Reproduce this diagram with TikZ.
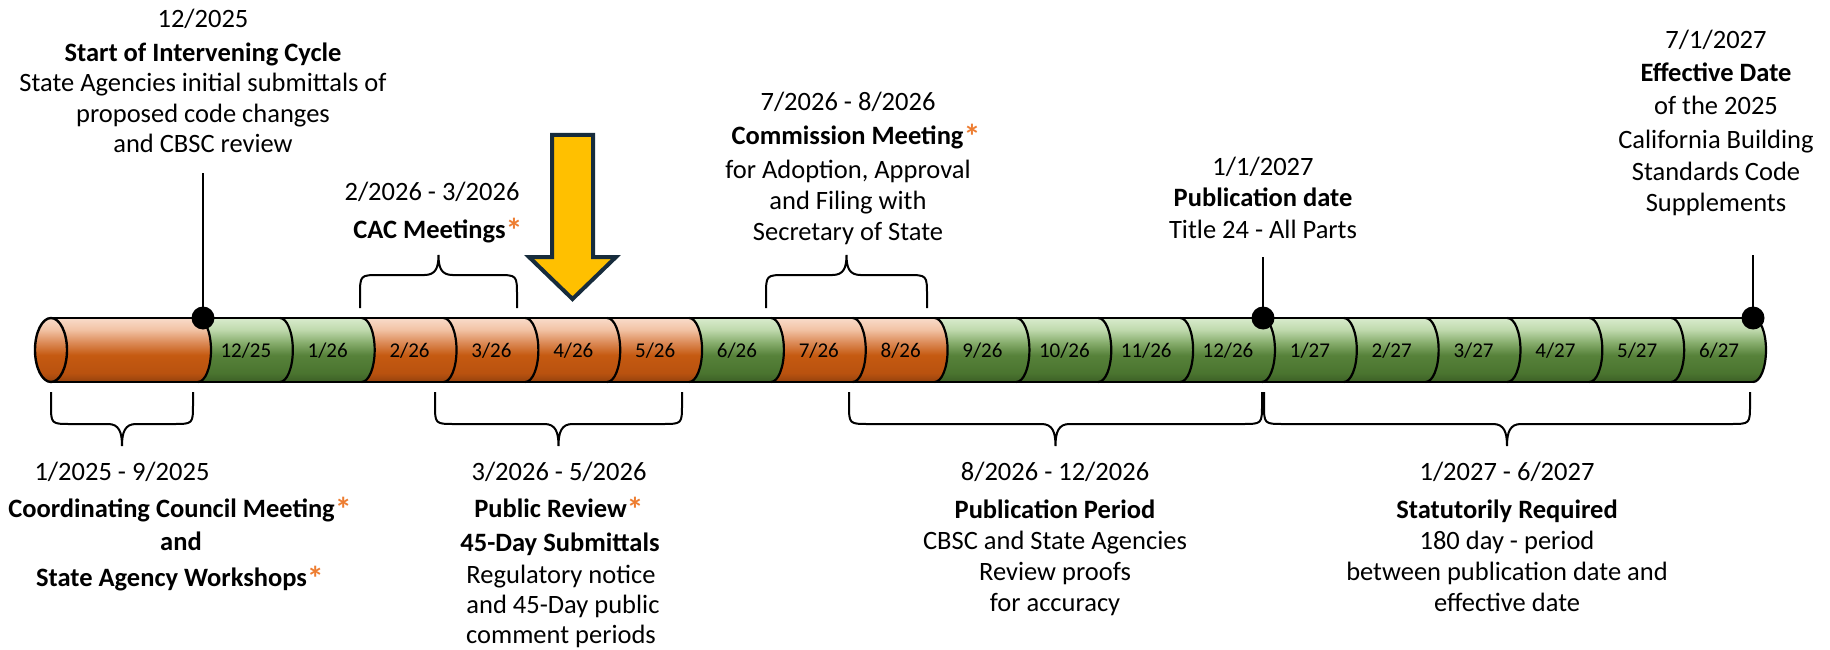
\documentclass[tikz,border=0pt]{standalone}
\usepackage{fontspec}
\setmainfont{Carlito}
\usetikzlibrary{calc}

\definecolor{oL}{HTML}{F9DCCB}
\definecolor{oL2}{HTML}{F2C3A5}
\definecolor{oT}{HTML}{DC8B58}
\definecolor{oM}{HTML}{C55A11}
\definecolor{oD}{HTML}{B9520F}
\definecolor{oB}{HTML}{94420E}
\definecolor{gL}{HTML}{D9EBCD}
\definecolor{gL2}{HTML}{C0DAAE}
\definecolor{gT}{HTML}{88AE6E}
\definecolor{gM}{HTML}{57823A}
\definecolor{gD}{HTML}{4A742F}
\definecolor{gB}{HTML}{3C5F26}
\definecolor{astorange}{HTML}{ED7D31}
\definecolor{arrowfill}{HTML}{FFC000}
\definecolor{arrowline}{HTML}{172C3C}

\pgfdeclareverticalshading{orangecyl}{100bp}{color(0bp)=(oB); color(25bp)=(oB); color(32bp)=(oD); color(46bp)=(oM); color(56bp)=(oT); color(66bp)=(oL2); color(75bp)=(oL); color(100bp)=(oL)}
\pgfdeclareverticalshading{greencyl}{100bp}{color(0bp)=(gB); color(25bp)=(gB); color(32bp)=(gD); color(46bp)=(gM); color(56bp)=(gT); color(66bp)=(gL2); color(75bp)=(gL); color(100bp)=(gL)}

\newcommand\oast{\raisebox{-4pt}{\fontsize{34}{34}\selectfont\bfseries\textcolor{astorange}{*}}}

\newcommand\topbrace[2]{%
  \pgfmathsetmacro\xm{(#1+#2)/2}%
  \draw[bracestyle] (#1,308) -- (#1,296) .. controls (#1,275) .. (#1+20,275) -- (\xm-14,275) .. controls (\xm-3,275) and (\xm,268) .. (\xm,255) .. controls (\xm,268) and (\xm+3,275) .. (\xm+14,275) -- (#2-20,275) .. controls (#2,275) .. (#2,296) -- (#2,308);
}
\newcommand\botbrace[2]{%
  \pgfmathsetmacro\xm{(#1+#2)/2}%
  \draw[bracestyle] (#1,392) -- (#1,404) .. controls (#1,424) .. (#1+20,424) -- (\xm-14,424) .. controls (\xm-3,424) and (\xm,432) .. (\xm,446) .. controls (\xm,432) and (\xm+3,424) .. (\xm+14,424) -- (#2-20,424) .. controls (#2,424) .. (#2,404) -- (#2,392);
}

\tikzset{
  txt/.style={anchor=base, inner sep=0pt, font=\fontsize{26.5}{30}\selectfont},
  btxt/.style={txt, font=\fontsize{26.5}{30}\selectfont\bfseries},
  monthlab/.style={anchor=base, inner sep=0pt, font=\fontsize{21}{24}\selectfont},
  cylline/.style={line width=2.4pt, black},
  segline/.style={line width=2.2pt, black},
  bracestyle/.style={line width=2pt, black},
  conn/.style={line width=2.4pt, black},
  dot/.style={circle, fill=black, inner sep=0pt, minimum size=23pt},
  arrowshape/.style={fill=arrowfill, draw=arrowline, line width=4pt, line join=miter},
}

\begin{document}
\begin{tikzpicture}[x=1pt,y=-1pt]
\useasboundingbox (0,0) rectangle (1830,650);

% ---- cylinder body ----
\shade[shading=orangecyl] (51,318) -- (198,318) arc[start angle=-90,end angle=90,x radius=13,y radius=32] -- (51,382) -- cycle;
\foreach \lab/\sh [count=\k] in {{12/25}/greencyl,{1/26}/greencyl,{2/26}/orangecyl,{3/26}/orangecyl,{4/26}/orangecyl,{5/26}/orangecyl,{6/26}/greencyl,{7/26}/orangecyl,{8/26}/orangecyl,{9/26}/greencyl,{10/26}/greencyl,{11/26}/greencyl,{12/26}/greencyl,{1/27}/greencyl,{2/27}/greencyl,{3/27}/greencyl,{4/27}/greencyl,{5/27}/greencyl,{6/27}/greencyl}{
  \pgfmathsetmacro\xa{198+81.842*(\k-1)}
  \pgfmathsetmacro\xb{198+81.842*\k}
  \shade[shading=\sh] (\xa,318) arc[start angle=-90,end angle=90,x radius=13,y radius=32] -- (\xb,382) arc[start angle=90,end angle=-90,x radius=13,y radius=32] -- cycle;
  \node[monthlab] (m\k) at ({(\xa+\xb)/2+7},357) {\lab};
}
% outlines
\draw[cylline] (51,318) -- (1753,318);
\draw[cylline] (51,382) -- (1753,382);
\foreach \k in {0,...,19}{
  \pgfmathsetmacro\xb{198+81.842*\k}
  \draw[segline] (\xb,318) arc[start angle=-90,end angle=90,x radius=13,y radius=32];
}
\shade[shading=orangecyl] (51,350) ellipse[x radius=16,y radius=32];
\draw[cylline] (51,350) ellipse[x radius=16,y radius=32];

% ---- milestones ----
\node[dot] (d1) at (203,318) {};
\node[dot] (d2) at (1263,318) {};
\node[dot] (d3) at (1753,318) {};
\coordinate (l1) at (203,173);
\coordinate (l2) at (1263,257);
\coordinate (l3) at (1753,255);
\draw[conn] (l1) -- (d1.center);
\draw[conn] (l2) -- (d2.center);
\draw[conn] (l3) -- (d3.center);

% ---- braces ----
\topbrace{360}{517}
\topbrace{766}{927}
\botbrace{51}{193}
\botbrace{435}{682}
\botbrace{849}{1262}
\botbrace{1264}{1750}

% ---- yellow arrow ----
\draw[arrowshape] (552,135) -- (593,135) -- (593,257) -- (616,257) -- (572.5,299) -- (529,257) -- (552,257) -- cycle;

% ---- top texts ----
\node[txt]  (t1a) at (203,28)  {12/2025};
\node[btxt] (t1b) at (203,62)  {Start of Intervening Cycle};
\node[txt]  (t1c) at (203,92)  {State Agencies initial submittals of};
\node[txt]  (t1d) at (203,122) {proposed code changes};
\node[txt]  (t1e) at (203,152) {and CBSC review};

\node[txt]  (t2a) at (432,200) {2/2026 - 3/2026};
\node[btxt] (t2b) at (438,238) {CAC Meetings\oast};

\node[txt]  (t3a) at (848,111) {7/2026 - 8/2026};
\node[btxt] (t3b) at (856,145) {Commission Meeting\oast};
\node[txt]  (t3c) at (848,178) {for Adoption, Approval};
\node[txt]  (t3d) at (848,209) {and Filing with};
\node[txt]  (t3e) at (848,240) {Secretary of State};

\node[txt]  (t4a) at (1263,175) {1/1/2027};
\node[btxt] (t4b) at (1263,206) {Publication date};
\node[txt]  (t4c) at (1263,238) {Title 24 - All Parts};

\node[txt]  (t5a) at (1716,49)  {7/1/2027};
\node[btxt] (t5b) at (1716,82)  {Effective Date};
\node[txt]  (t5c) at (1716,115) {of the 2025};
\node[txt]  (t5d) at (1716,148) {California Building};
\node[txt]  (t5e) at (1716,180) {Standards Code};
\node[txt]  (t5f) at (1716,211) {Supplements};

% ---- bottom texts ----
\node[txt]  (b1a) at (122,480) {1/2025 - 9/2025};
\node[btxt] (b1b) at (180,517) {Coordinating Council Meeting\oast};
\node[btxt] (b1c) at (181,550) {and};
\node[btxt] (b1d) at (180,586) {State Agency Workshops\oast};

\node[txt]  (b2a) at (559,480) {3/2026 - 5/2026};
\node[btxt] (b2b) at (559,517) {Public Review\oast};
\node[btxt] (b2c) at (560,551) {45-Day Submittals};
\node[txt]  (b2d) at (561,583) {Regulatory notice};
\node[txt]  (b2e) at (563,613) {and 45-Day public};
\node[txt]  (b2f) at (561,643) {comment periods};

\node[txt]  (b3a) at (1055,480) {8/2026 - 12/2026};
\node[btxt] (b3b) at (1055,518) {Publication Period};
\node[txt]  (b3c) at (1055,549) {CBSC and State Agencies};
\node[txt]  (b3d) at (1055,580) {Review proofs};
\node[txt]  (b3e) at (1055,611) {for accuracy};

\node[txt]  (b4a) at (1507,480) {1/2027 - 6/2027};
\node[btxt] (b4b) at (1507,518) {Statutorily Required};
\node[txt]  (b4c) at (1507,549) {180 day - period};
\node[txt]  (b4d) at (1507,580) {between publication date and};
\node[txt]  (b4e) at (1507,611) {effective date};
\end{tikzpicture}
\end{document}
